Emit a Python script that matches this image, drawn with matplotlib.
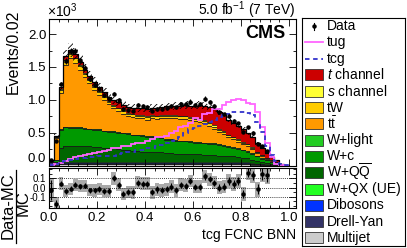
import numpy as np
import matplotlib
matplotlib.use('Agg')
import matplotlib.pyplot as plt
from matplotlib.patches import Rectangle
from matplotlib.ticker import MultipleLocator, FixedLocator, FormatStrFormatter

plt.rcParams['font.family'] = ['Liberation Sans', 'DejaVu Sans']
plt.rcParams['mathtext.fontset'] = 'custom'
plt.rcParams['mathtext.rm'] = 'Liberation Sans'
plt.rcParams['mathtext.it'] = 'Liberation Sans:italic'
plt.rcParams['mathtext.bf'] = 'Liberation Sans:bold'
plt.rcParams['hatch.linewidth'] = 0.6
plt.rcParams['axes.unicode_minus'] = False

# ---------------- data (x 10^3 events per 0.02 bin) ----------------
bin_edges = np.linspace(0.0, 1.0, 51)

multijet = [0.03, 0.01, 0.02, 0.02, 0.02, 0.02, 0.02, 0.02, 0.02, 0.02,
            0.02, 0.02, 0.02, 0.02, 0.02, 0.02, 0.02, 0.02, 0.02, 0.02,
            0.02, 0.02, 0.02, 0.02, 0.02, 0.02, 0.02, 0.02, 0.02, 0.02,
            0.02, 0.02, 0.02, 0.02, 0.02, 0.02, 0.02, 0.02, 0.02, 0.02,
            0.02, 0.02, 0.015, 0.01, 0.01, 0.01, 0.005, 0.005, 0.005, 0.0]
drell_yan = [0.02, 0.01, 0.01, 0.01, 0.01, 0.01, 0.01, 0.01, 0.01, 0.01,
             0.01, 0.01, 0.01, 0.01, 0.01, 0.01, 0.01, 0.01, 0.01, 0.01,
             0.01, 0.01, 0.01, 0.01, 0.01, 0.01, 0.01, 0.01, 0.01, 0.01,
             0.01, 0.01, 0.01, 0.01, 0.01, 0.01, 0.01, 0.01, 0.01, 0.01,
             0.01, 0.01, 0.01, 0.01, 0.005, 0.005, 0.005, 0.0, 0.0, 0.0]
dibosons = [0.01, 0.005, 0.01, 0.01, 0.01, 0.01, 0.01, 0.01, 0.01, 0.01,
            0.01, 0.01, 0.01, 0.01, 0.01, 0.01, 0.01, 0.01, 0.01, 0.01,
            0.01, 0.01, 0.01, 0.01, 0.01, 0.01, 0.01, 0.01, 0.01, 0.01,
            0.01, 0.01, 0.01, 0.01, 0.01, 0.01, 0.01, 0.01, 0.01, 0.01,
            0.01, 0.01, 0.005, 0.005, 0.005, 0.0, 0.0, 0.0, 0.0, 0.0]
w_qx = [0.01, 0.005, 0.02, 0.02, 0.02, 0.02, 0.02, 0.02, 0.02, 0.02,
        0.02, 0.02, 0.02, 0.02, 0.02, 0.02, 0.02, 0.02, 0.02, 0.02,
        0.02, 0.02, 0.02, 0.02, 0.02, 0.02, 0.02, 0.02, 0.02, 0.02,
        0.02, 0.02, 0.02, 0.02, 0.02, 0.02, 0.02, 0.02, 0.02, 0.02,
        0.01, 0.01, 0.01, 0.005, 0.005, 0.005, 0.005, 0.005, 0.0, 0.0]
w_qq = [0.005, 0.02, 0.20, 0.24, 0.24, 0.24, 0.24, 0.23, 0.23, 0.22,
        0.22, 0.21, 0.20, 0.20, 0.19, 0.18, 0.17, 0.16, 0.16, 0.15,
        0.15, 0.15, 0.14, 0.14, 0.13, 0.13, 0.12, 0.12, 0.12, 0.11,
        0.11, 0.11, 0.10, 0.10, 0.10, 0.09, 0.09, 0.08, 0.08, 0.07,
        0.07, 0.06, 0.05, 0.04, 0.03, 0.02, 0.015, 0.01, 0.005, 0.0]
w_c = [0.005, 0.03, 0.28, 0.28, 0.27, 0.27, 0.27, 0.27, 0.26, 0.26,
       0.26, 0.25, 0.25, 0.25, 0.25, 0.25, 0.25, 0.24, 0.24, 0.24,
       0.23, 0.23, 0.23, 0.22, 0.20, 0.20, 0.20, 0.19, 0.19, 0.19,
       0.18, 0.18, 0.18, 0.17, 0.17, 0.16, 0.15, 0.14, 0.13, 0.12,
       0.11, 0.10, 0.09, 0.07, 0.05, 0.04, 0.025, 0.015, 0.005, 0.005]
w_light = [0.0, 0.0, 0.01, 0.01, 0.01, 0.01, 0.01, 0.01, 0.01, 0.01,
           0.01, 0.01, 0.01, 0.01, 0.01, 0.01, 0.01, 0.01, 0.01, 0.01,
           0.01, 0.01, 0.01, 0.01, 0.01, 0.01, 0.01, 0.01, 0.01, 0.01,
           0.01, 0.01, 0.01, 0.01, 0.01, 0.01, 0.01, 0.01, 0.01, 0.01,
           0.01, 0.01, 0.005, 0.005, 0.005, 0.0, 0.0, 0.0, 0.0, 0.0]
ttbar = [0.0, 0.34, 0.55, 0.94, 1.05, 0.98, 0.88, 0.77, 0.69, 0.60,
         0.52, 0.47, 0.41, 0.35, 0.32, 0.29, 0.26, 0.27, 0.25, 0.26,
         0.25, 0.27, 0.27, 0.29, 0.32, 0.32, 0.33, 0.33, 0.33, 0.32,
         0.31, 0.30, 0.29, 0.26, 0.22, 0.19, 0.17, 0.14, 0.12, 0.10,
         0.09, 0.08, 0.065, 0.045, 0.035, 0.025, 0.02, 0.01, 0.005, 0.0]
tw = [0.0, 0.02, 0.05, 0.07, 0.07, 0.07, 0.06, 0.06, 0.05, 0.05,
      0.05, 0.05, 0.04, 0.04, 0.04, 0.04, 0.04, 0.04, 0.04, 0.04,
      0.04, 0.04, 0.04, 0.04, 0.04, 0.04, 0.04, 0.04, 0.04, 0.04,
      0.04, 0.04, 0.04, 0.04, 0.03, 0.03, 0.03, 0.03, 0.03, 0.03,
      0.02, 0.02, 0.02, 0.015, 0.01, 0.01, 0.005, 0.005, 0.0, 0.0]
s_channel = [0.0, 0.0, 0.01, 0.01, 0.01, 0.01, 0.01, 0.01, 0.01, 0.01,
             0.01, 0.01, 0.01, 0.01, 0.01, 0.01, 0.01, 0.01, 0.01, 0.01,
             0.01, 0.01, 0.01, 0.01, 0.01, 0.01, 0.01, 0.01, 0.01, 0.01,
             0.02, 0.02, 0.02, 0.02, 0.02, 0.02, 0.01, 0.01, 0.01, 0.01,
             0.01, 0.01, 0.01, 0.005, 0.005, 0.005, 0.0, 0.0, 0.0, 0.0]
t_channel = [0.0, 0.01, 0.03, 0.05, 0.05, 0.05, 0.05, 0.05, 0.05, 0.06,
             0.06, 0.06, 0.07, 0.07, 0.08, 0.08, 0.09, 0.09, 0.10, 0.10,
             0.11, 0.11, 0.12, 0.12, 0.13, 0.13, 0.14, 0.15, 0.16, 0.17,
             0.18, 0.20, 0.21, 0.23, 0.25, 0.26, 0.25, 0.23, 0.21, 0.20,
             0.19, 0.17, 0.16, 0.13, 0.10, 0.07, 0.05, 0.03, 0.01, 0.005]

data = [0.078, 0.37, 1.24, 1.59, 1.74, 1.74, 1.60, 1.49, 1.32, 1.23,
        1.17, 1.075, 1.01, 1.09, 0.99, 0.856, 0.846, 0.836, 0.914, 0.905,
        0.894, 0.836, 0.862, 0.863, 0.882, 0.909, 0.883, 0.937, 0.938, 0.974,
        0.919, 0.929, 1.019, 0.970, 0.903, 0.82, 0.778, 0.749, 0.676, 0.642,
        0.512, 0.58, 0.497, 0.333, 0.299, 0.215, np.nan, np.nan, np.nan, np.nan]

tug = [0.01, 0.02, 0.04, 0.07, 0.10, 0.13, 0.15, 0.16, 0.18, 0.19,
       0.21, 0.22, 0.24, 0.26, 0.27, 0.29, 0.30, 0.32, 0.34, 0.35,
       0.37, 0.40, 0.43, 0.44, 0.45, 0.50, 0.52, 0.58, 0.60, 0.65,
       0.73, 0.70, 0.78, 0.80, 0.86, 0.86, 0.92, 0.96, 1.00, 1.01,
       1.00, 0.95, 0.93, 0.81, 0.58, 0.35, 0.13, 0.03, 0.01, 0.0]
tcg = [0.01, 0.02, 0.05, 0.07, 0.09, 0.10, 0.11, 0.12, 0.13, 0.13,
       0.14, 0.14, 0.15, 0.15, 0.17, 0.19, 0.20, 0.21, 0.23, 0.24,
       0.26, 0.27, 0.30, 0.31, 0.35, 0.38, 0.40, 0.44, 0.50, 0.55,
       0.57, 0.60, 0.63, 0.66, 0.70, 0.74, 0.77, 0.79, 0.81, 0.82,
       0.81, 0.80, 0.77, 0.66, 0.51, 0.30, 0.16, 0.07, 0.02, 0.01]

ratio_ticks = [-0.1, 0.0, 0.1]
mc_syst_rel = 0.06

# stacking order bottom -> top
stack = [
    ('Multijet', multijet, '#cccccc'),
    ('Drell-Yan', drell_yan, '#333366'),
    ('Dibosons', dibosons, '#0033ff'),
    ('W+QX (UE)', w_qx, '#22ff22'),
    (r'W+Q$\overline{\mathrm{Q}}$', w_qq, '#006600'),
    ('W+c', w_c, '#009900'),
    ('W+light', w_light, '#22cc22'),
    (r'$\mathrm{t\bar{t}}$', ttbar, '#ff9900'),
    ('tW', tw, '#ffcc00'),
    (r'$s$ channel', s_channel, '#ffff33'),
    (r'$t$ channel', t_channel, '#cc0000'),
]

# ---------------- figure ----------------
W, H = 407, 248
fig = plt.figure(figsize=(W / 100, H / 100), dpi=100)

def fx(px):
    return px / W

def fy(py):
    return 1 - py / H

ax = fig.add_axes([fx(49), fy(165.5), fx(296) - fx(49), fy(19) - fy(165.5)])
rax = fig.add_axes([fx(49), fy(208), fx(296) - fx(49), fy(168) - fy(208)])

centers = 0.5 * (bin_edges[:-1] + bin_edges[1:])
bottom = np.zeros(len(centers))
for name, vals, col in stack:
    vals = np.asarray(vals, dtype=float)
    top = bottom + vals
    ax.stairs(top, bin_edges, baseline=bottom, fill=True, color=col, lw=0)
    ax.stairs(top, bin_edges, baseline=None, color='#1a1a1a', lw=0.6)
    bottom = top
total = bottom

# hatched uncertainty band
unc = total * mc_syst_rel
ax.stairs(total + unc, bin_edges, baseline=total - unc, fill=True,
          facecolor='none', edgecolor='k', hatch='//////', lw=0)
ax.stairs(total, bin_edges, baseline=None, color='k', lw=0.9)

# signals
ax.stairs(tug, bin_edges, baseline=None, color='#ff66ff', lw=1.3)
ax.stairs(tcg, bin_edges, baseline=None, color='#3333cc', lw=1.3,
          linestyle=(0, (2.5, 2.0)))

# data
data_arr = np.asarray(data, dtype=float)
data_err = np.sqrt(data_arr * 1000.0) / 1000.0
ax.errorbar(centers, data_arr, yerr=data_err, fmt='o', ms=2.2, color='k',
            elinewidth=0.8, capsize=0, zorder=5)

ax.set_xlim(0, 1.03)
ax.set_ylim(0, 2.23)
ax.xaxis.set_major_locator(MultipleLocator(0.2))
ax.xaxis.set_minor_locator(MultipleLocator(0.04))
ax.yaxis.set_major_locator(MultipleLocator(0.5))
ax.yaxis.set_minor_locator(MultipleLocator(0.25))
ax.yaxis.set_major_formatter(FormatStrFormatter('%.1f'))
ax.tick_params(axis='both', which='both', direction='in', top=True, right=True,
               labelbottom=False, labelsize=9.5, width=0.6, pad=2)
ax.tick_params(which='major', length=5)
ax.tick_params(which='minor', length=2.5)
for s in ax.spines.values():
    s.set_linewidth(0.8)

# ratio panel
ratio = data_arr / total - 1.0
ratio_err = data_err / total
box = np.sqrt(mc_syst_rel ** 2 + ratio_err ** 2)
ok = ~np.isnan(ratio)
rax.bar(centers[ok], 2 * box[ok], bottom=ratio[ok] - box[ok], width=0.02,
        color='#aaaaaa', lw=0, zorder=1)
for v in ratio_ticks:
    rax.axhline(v, color='k', ls=(0, (1, 1.5)), lw=0.6, zorder=2)
rax.errorbar(centers[ok], ratio[ok], yerr=ratio_err[ok], fmt='o', ms=2.2,
             color='k', elinewidth=0.8, capsize=0, zorder=3)
rax.set_xlim(0, 1.03)
rax.set_ylim(-0.22, 0.21)
rax.xaxis.set_major_locator(MultipleLocator(0.2))
rax.xaxis.set_minor_locator(MultipleLocator(0.04))
rax.yaxis.set_major_locator(FixedLocator(ratio_ticks))
rax.yaxis.set_minor_locator(FixedLocator([-0.2, -0.15, -0.05, 0.05, 0.15, 0.2]))
rax.xaxis.set_major_formatter(FormatStrFormatter('%.1f'))
rax.yaxis.set_major_formatter(FormatStrFormatter('%.1f'))
rax.tick_params(axis='both', which='both', direction='in', top=True, right=True,
                width=0.6, pad=2)
rax.tick_params(axis='x', labelsize=9.5, pad=3)
rax.tick_params(axis='y', labelsize=7)
rax.tick_params(which='major', length=5)
rax.tick_params(which='minor', length=2.5)
for s in rax.spines.values():
    s.set_linewidth(0.8)

# lift the main panel's "0.0" label a little, as in the reference
fig.canvas.draw()
for t in ax.yaxis.get_major_ticks():
    if abs(t.get_loc()) < 1e-9:
        t.label1.set_verticalalignment('bottom')

# texts
fig.text(fx(13), fy(52), 'Events/0.02', rotation=90, ha='center', va='center',
         fontsize=11.5)
fig.text(fx(47), fy(11), r'$\times10^{3}$', ha='left', va='center', fontsize=10)
fig.text(fx(296), fy(10), r'5.0 fb$^{-1}$ (7 TeV)', ha='right', va='center',
         fontsize=10)
fig.text(fx(285), fy(34), 'CMS', ha='right', va='center', fontsize=13,
         fontweight='bold')
fig.text(fx(296), fy(235), 'tcg FCNC BNN', ha='right', va='center', fontsize=10)
# ratio y label as fraction
fig.text(fx(8.5), fy(206), 'Data-MC', rotation=90, ha='center', va='center',
         fontsize=12)
fig.text(fx(23), fy(203), 'MC', rotation=90, ha='center', va='center',
         fontsize=12)
fig.add_artist(plt.Line2D([fx(16), fx(16)], [fy(170), fy(243)], color='k',
                          lw=0.9, transform=fig.transFigure))

# legend
lax = fig.add_axes([fx(302), fy(246), fx(405) - fx(302), fy(18) - fy(246)])
lax.set_xlim(302, 405)
lax.set_ylim(246, 18)
lax.set_xticks([])
lax.set_yticks([])
for s in lax.spines.values():
    s.set_linewidth(0.8)

entries = [('Data', 'data', 'k'),
           ('tug', 'line', '#ff66ff'),
           ('tcg', 'dash', '#3333cc')]
for name, vals, col in reversed(stack):
    entries.append((name, 'box', col))

y0, dy = 26.0, 16.3
for i, (name, kind, col) in enumerate(entries):
    yc = y0 + i * dy
    if kind == 'data':
        lax.plot([314], [yc], 'o', ms=2.2, color='k')
        lax.plot([314, 314], [yc - 3.5, yc + 3.5], color='k', lw=0.8)
    elif kind == 'line':
        lax.plot([305, 323], [yc, yc], color=col, lw=1.3)
    elif kind == 'dash':
        lax.plot([305, 323], [yc, yc], color=col, lw=1.3,
                 linestyle=(0, (2.5, 2.0)))
    else:
        lax.add_patch(Rectangle((305, yc - 5.5), 18, 11, facecolor=col,
                                edgecolor='#333333', lw=0.6))
    lax.text(327, yc, name, ha='left', va='center', fontsize=10)

fig.savefig('out.png', dpi=100)
